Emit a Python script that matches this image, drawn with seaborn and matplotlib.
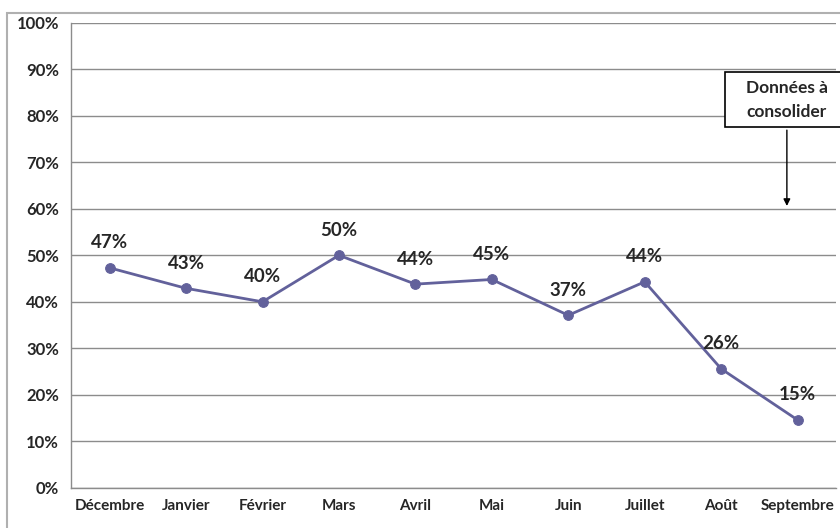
import numpy as np
import pandas as pd
import seaborn as sns
import matplotlib.pyplot as plt
from matplotlib.ticker import MultipleLocator, PercentFormatter
from matplotlib.patches import Rectangle


mois = ["Décembre", "Janvier", "Février", "Mars", "Avril", "Mai", "Juin", "Juillet", "Août", "Septembre"]
taux = [47.3, 42.9, 40.0, 50.0, 43.8, 44.8, 37.1, 44.3, 25.6, 14.6]
note = "Données à\nconsolider"

df = pd.DataFrame({"mois": mois, "taux": taux})

sns.set_style("white")
plt.rcParams["font.family"] = ["Lato", "DejaVu Sans"]
plt.rcParams["font.weight"] = "bold"

fig = plt.figure(figsize=(8.4, 5.28), dpi=100)
ax = fig.add_axes([0.085, 0.076, 0.91, 0.881])

# cadre gris autour du graphique
fig.patches.append(Rectangle((0.008, -0.01), 1.0, 0.986, transform=fig.transFigure,
                             fill=False, edgecolor="#b0b0b0", linewidth=1.5))

couleur = "#62619b"
sns.lineplot(data=df, x="mois", y="taux", ax=ax, color=couleur, linewidth=2,
             marker="o", markersize=7, markeredgecolor=couleur, sort=False)

for i, v in enumerate(taux):
    ax.annotate(f"{v:.0f}%", (i, v), xytext=(0, 18), textcoords="offset points",
                ha="center", va="center", fontsize=13.5, fontweight="bold")

ax.set_xlim(-0.5, len(mois) - 0.5)
ax.set_ylim(0, 100)
ax.yaxis.set_major_locator(MultipleLocator(10))
ax.yaxis.set_major_formatter(PercentFormatter(decimals=0))
ax.grid(axis="y", color="#8c8c8c", linewidth=1)
ax.set_xlabel("")
ax.set_ylabel("")

ax.set_xticks(range(len(mois)))
ax.set_xticklabels(mois)
ax.set_xticks(np.arange(-0.5, len(mois)), minor=True)
ax.tick_params(axis="x", which="major", length=0, pad=8, labelsize=11)
ax.tick_params(axis="x", which="minor", length=5, color="#8c8c8c", direction="out")
ax.tick_params(axis="y", length=5, color="#8c8c8c", direction="out", labelsize=12, pad=4)
for lbl in ax.get_xticklabels() + ax.get_yticklabels():
    lbl.set_fontweight("bold")

for s in ["top", "right"]:
    ax.spines[s].set_visible(False)
for s in ["left", "bottom"]:
    ax.spines[s].set_color("#8c8c8c")
    ax.spines[s].set_linewidth(1)

# encadré (déborde à droite) + flèche
ax.add_patch(Rectangle((8.05, 77.5), 2.0, 11.8, facecolor="white", edgecolor="black",
                       linewidth=1.2, clip_on=False, zorder=5))
ax.text(8.86, 83.4, note, ha="center", va="center", fontsize=12.5, fontweight="bold",
        linespacing=1.6, zorder=6)
ax.annotate("", xy=(8.86, 60), xytext=(8.86, 77.5),
            arrowprops=dict(arrowstyle="-|>", color="black", linewidth=1, mutation_scale=10))

plt.savefig("out.png", dpi=100)
